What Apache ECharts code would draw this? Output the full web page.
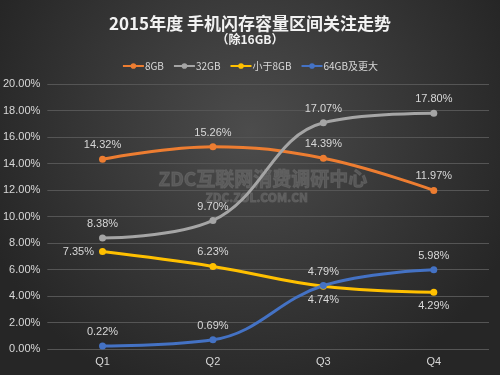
<!DOCTYPE html>
<html>
<head>
<meta charset="utf-8">
<script src="https://cdn.jsdelivr.net/npm/echarts@6/dist/echarts.min.js"></script>
<style>
  html, body { margin: 0; padding: 0; }
  #chart { width: 500px; height: 375px; }
</style>
</head>
<body>
<div id="chart"></div>
<script>
  const quarters = ["Q1", "Q2", "Q3", "Q4"];
  const gb8 = [14.32, 15.26, 14.39, 11.97];
  const gb32 = [8.38, 9.70, 17.07, 17.80];
  const under8 = [7.35, 6.23, 4.74, 4.29];
  const gb64 = [0.22, 0.69, 4.79, 5.98];
  const yTicks = [0, 2, 4, 6, 8, 10, 12, 14, 16, 18, 20];

  const font = "'Noto Sans CJK SC', 'Noto Sans', sans-serif";
  const numFont = "'Liberation Sans', sans-serif";

  function makeSeries(name, values, color, positions) {
    return {
      name: name,
      type: "line",
      smooth: 0.4,
      symbol: "circle",
      symbolSize: 7,
      lineStyle: { width: 3, color: color },
      itemStyle: { color: color },
      label: {
        show: true,
        formatter: (p) => p.value.toFixed(2) + "%",
        color: "#d8d8d8",
        fontSize: 11,
        fontFamily: numFont,
        distance: 5,
      },
      data: values.map((v, i) => ({ value: v, label: { position: positions[i] } })),
    };
  }

  const myChart = echarts.init(document.getElementById("chart"));
  myChart.setOption({
    backgroundColor: {
      type: "radial",
      x: 0.5, y: 0.35, r: 0.75,
      colorStops: [
        { offset: 0, color: "#4c4c4c" },
        { offset: 1, color: "#262626" },
      ],
    },
    title: [
      {
        text: "2015年度 手机闪存容量区间关注走势",
        left: "center",
        top: 10,
        textStyle: { color: "#f2f2f2", fontSize: 17, fontWeight: "bold", fontFamily: font },
      },
      {
        text: "（除16GB）",
        left: "center",
        top: 28,
        textStyle: { color: "#f2f2f2", fontSize: 12, fontWeight: "bold", fontFamily: font },
      },
    ],
    legend: {
      top: 56,
      left: "center",
      itemWidth: 21,
      itemHeight: 7,
      itemGap: 9,
      textStyle: { color: "#d8d8d8", fontSize: 10, fontFamily: font, padding: [0, 0, 0, -4] },
      data: ["8GB", "32GB", "小于8GB", "64GB及更大"],
    },
    grid: { left: 43, right: 11, top: 84, bottom: 26, containLabel: false },
    xAxis: {
      type: "category",
      data: quarters,
      boundaryGap: true,
      axisLine: { show: false },
      axisTick: { show: false },
      axisLabel: { color: "#d8d8d8", fontSize: 11, fontFamily: numFont, margin: 7 },
    },
    yAxis: {
      type: "value",
      min: yTicks[0],
      max: yTicks[yTicks.length - 1],
      interval: 2,
      axisLabel: {
        color: "#d8d8d8",
        fontSize: 11,
        fontFamily: numFont,
        formatter: (v) => v.toFixed(2) + "%",
        margin: 7,
      },
      splitLine: { lineStyle: { color: "#555555", width: 1 } },
    },
    graphic: [
      {
        type: "text",
        left: 158,
        top: 169,
        z: 0,
        style: {
          text: "ZDC互联网消费调研中心",
          fill: "rgba(105,105,105,0.6)",
          stroke: "rgba(130,130,130,0.4)",
          lineWidth: 1,
          font: "bold 19px " + font,
        },
      },
      {
        type: "text",
        left: 205,
        top: 191,
        z: 0,
        style: {
          text: "ZDC.ZOL.COM.CN",
          fill: "rgba(105,105,105,0.6)",
          stroke: "rgba(130,130,130,0.4)",
          lineWidth: 1,
          font: "bold 12px " + font,
        },
      },
    ],
    series: [
      makeSeries("8GB", gb8, "#ED7D31", ["top", "top", "top", "top"]),
      makeSeries("32GB", gb32, "#A5A5A5", ["top", "top", "top", "top"]),
      makeSeries("小于8GB", under8, "#FFC000", ["left", "top", "bottom", "bottom"]),
      makeSeries("64GB及更大", gb64, "#4472C4", ["top", "top", "top", "top"]),
    ],
  });
</script>
</body>
</html>
